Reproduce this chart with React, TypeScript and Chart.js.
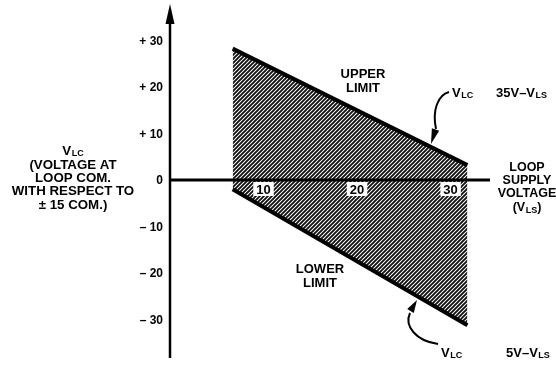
import React, { useEffect, useRef } from "react";
import { Chart, registerables } from "chart.js";

Chart.register(...registerables);

// Loop supply voltage (V_LS) at the ends of the shaded region
const supplyVoltage = [6.7, 31.8];
// Upper limit of V_LC (35V - V_LS)
const upperLimit = [28.2, 3.2];
// Lower limit of V_LC (5V - V_LS), as drawn
const lowerLimit = [-2, -31.2];

const xTicks = [10, 20, 30];
const xTickLabels = ["10", "20", "30"];
const yTicks = [30, 20, 10, 0, -10, -20, -30];
const yTickLabels = ["+ 30", "+ 20", "+ 10", "0", "– 10", "– 20", "– 30"];

const FONT = "'Liberation Sans', Arial, Helvetica, sans-serif";

function makeHatch(): CanvasPattern | string {
  const c = document.createElement("canvas");
  c.width = 4;
  c.height = 4;
  const g = c.getContext("2d");
  if (!g) return "#777";
  g.fillStyle = "#ffffff";
  g.fillRect(0, 0, 4, 4);
  g.strokeStyle = "#111111";
  g.lineWidth = 1.9;
  g.beginPath();
  g.moveTo(-1, 5);
  g.lineTo(5, -1);
  g.moveTo(-3, 3);
  g.lineTo(3, -3);
  g.moveTo(1, 7);
  g.lineTo(7, 1);
  g.stroke();
  const p = g.createPattern(c, "repeat");
  return p || "#777";
}

function drawSub(
  ctx: CanvasRenderingContext2D,
  main: string,
  sub: string,
  x: number,
  y: number,
  size: number,
  after = ""
) {
  ctx.textAlign = "left";
  ctx.textBaseline = "middle";
  ctx.font = `bold ${size}px ${FONT}`;
  ctx.fillText(main, x, y);
  let w = ctx.measureText(main).width;
  ctx.font = `bold ${Math.round(size * 0.7)}px ${FONT}`;
  ctx.fillText(sub, x + w + 0.5, y + 3);
  w += ctx.measureText(sub).width + 0.5;
  if (after) {
    ctx.font = `bold ${size}px ${FONT}`;
    ctx.fillText(after, x + w, y);
    w += ctx.measureText(after).width;
  }
  return w;
}

function measureSub(ctx: CanvasRenderingContext2D, main: string, sub: string, size: number, after = "") {
  ctx.font = `bold ${size}px ${FONT}`;
  let w = ctx.measureText(main).width + 0.5;
  ctx.font = `bold ${Math.round(size * 0.7)}px ${FONT}`;
  w += ctx.measureText(sub).width;
  if (after) {
    ctx.font = `bold ${size}px ${FONT}`;
    w += ctx.measureText(after).width;
  }
  return w;
}

const overlayPlugin = {
  id: "overlay",
  afterDatasetsDraw(chart: any) {
    const ctx: CanvasRenderingContext2D = chart.ctx;
    const xs = chart.scales.x;
    const ys = chart.scales.y;
    const x0 = xs.getPixelForValue(0);
    const y0 = ys.getPixelForValue(0);
    const area = chart.chartArea;
    ctx.save();
    ctx.fillStyle = "#000";
    ctx.strokeStyle = "#000";

    // X axis line
    ctx.lineWidth = 3;
    ctx.beginPath();
    ctx.moveTo(x0, y0);
    ctx.lineTo(xs.getPixelForValue(xs.max) + 2, y0);
    ctx.stroke();

    // Y axis line with arrow
    ctx.lineWidth = 2.5;
    ctx.beginPath();
    ctx.moveTo(x0, area.bottom + 1);
    ctx.lineTo(x0, area.top + 14);
    ctx.stroke();
    ctx.beginPath();
    ctx.moveTo(x0, area.top + 1);
    ctx.lineTo(x0 - 4.5, area.top + 21);
    ctx.lineTo(x0 + 4.5, area.top + 21);
    ctx.closePath();
    ctx.fill();

    // Y tick labels
    ctx.font = `bold 12px ${FONT}`;
    ctx.textAlign = "right";
    ctx.textBaseline = "middle";
    yTicks.forEach((v, i) => {
      ctx.fillText(yTickLabels[i], x0 - 7, ys.getPixelForValue(v) + 1);
    });

    // X tick labels with white backdrop
    ctx.font = `bold 13px ${FONT}`;
    ctx.textAlign = "center";
    xTicks.forEach((v, i) => {
      const px = xs.getPixelForValue(v);
      const w = ctx.measureText(xTickLabels[i]).width + 6;
      ctx.fillStyle = "#fff";
      ctx.fillRect(px - w / 2, y0 + 2, w, 14);
      ctx.fillStyle = "#000";
      ctx.fillText(xTickLabels[i], px, y0 + 10);
    });

    // Y axis title
    ctx.textAlign = "center";
    const tx = 73;
    const vw = measureSub(ctx, "V", "LC", 13.3);
    drawSub(ctx, "V", "LC", tx - vw / 2, 151, 13.3);
    ctx.textAlign = "center";
    ctx.font = `bold 13.3px ${FONT}`;
    ctx.fillText("(VOLTAGE AT", tx, 165);
    ctx.fillText("LOOP COM.", tx, 178);
    ctx.fillText("WITH RESPECT TO", tx, 191);
    ctx.fillText("± 15 COM.)", tx, 205);

    // X axis title
    const ax = 527;
    ctx.font = `bold 12.5px ${FONT}`;
    ctx.fillText("LOOP", ax, 168);
    ctx.fillText("SUPPLY", ax, 181);
    ctx.fillText("VOLTAGE", ax, 194);
    const lw = measureSub(ctx, "(V", "LS", 12.5, ")");
    drawSub(ctx, "(V", "LS", ax - lw / 2, 208, 12.5, ")");

    // Region labels
    ctx.textAlign = "center";
    ctx.font = `bold 13px ${FONT}`;
    ctx.fillText("UPPER", 363, 74);
    ctx.fillText("LIMIT", 363, 88);
    ctx.fillText("LOWER", 320, 269);
    ctx.fillText("LIMIT", 320, 283);

    // Formula labels
    drawSub(ctx, "V", "LC", 452, 93, 13);
    drawSub(ctx, "35V–V", "LS", 496, 93, 13);
    drawSub(ctx, "V", "LC", 441, 353, 13);
    drawSub(ctx, "5V–V", "LS", 506, 353, 13);

    // Curved arrows
    const arrow = (
      pts: number[],
      tip: [number, number],
      base: [number, number]
    ) => {
      ctx.lineWidth = 2;
      ctx.beginPath();
      ctx.moveTo(pts[0], pts[1]);
      ctx.bezierCurveTo(pts[2], pts[3], pts[4], pts[5], pts[6], pts[7]);
      ctx.stroke();
      const dx = tip[0] - base[0];
      const dy = tip[1] - base[1];
      const len = Math.hypot(dx, dy);
      const px = (-dy / len) * 3.8;
      const py = (dx / len) * 3.8;
      ctx.beginPath();
      ctx.moveTo(tip[0], tip[1]);
      ctx.lineTo(base[0] + px, base[1] + py);
      ctx.lineTo(base[0] - px, base[1] - py);
      ctx.closePath();
      ctx.fill();
    };
    arrow([449, 92, 438, 95, 432, 110, 436, 129], [431, 144], [435.5, 129.5]);
    arrow([438, 344, 416, 341, 404, 326, 410, 313], [417, 300], [410.5, 311]);

    ctx.restore();
  },
};

export default function App() {
  const ref = useRef<HTMLCanvasElement | null>(null);
  useEffect(() => {
    if (!ref.current) return;
    const hatch = makeHatch();
    const upperPts = supplyVoltage.map((x, i) => ({ x, y: upperLimit[i] }));
    const lowerPts = supplyVoltage.map((x, i) => ({ x, y: lowerLimit[i] }));
    const chart = new Chart(ref.current, {
      type: "line",
      data: {
        datasets: [
          {
            label: "Upper limit",
            data: upperPts,
            borderColor: "#000",
            borderWidth: 4,
            pointRadius: 0,
            fill: false,
            tension: 0,
          },
          {
            label: "Lower limit",
            data: lowerPts,
            borderColor: "#000",
            borderWidth: 4,
            pointRadius: 0,
            fill: "-1",
            backgroundColor: hatch as any,
            tension: 0,
          },
        ],
      },
      options: {
        responsive: false,
        animation: false,
        events: [],
        layout: { padding: { left: 170, right: 68, top: 3, bottom: 16 } },
        plugins: {
          legend: { display: false },
          tooltip: { enabled: false },
          filler: { drawTime: "beforeDatasetsDraw" },
        },
        scales: {
          x: { type: "linear", min: 0, max: 34, display: false },
          y: { type: "linear", min: -38, max: 38, display: false },
        },
      },
      plugins: [overlayPlugin],
    });
    return () => chart.destroy();
  }, []);
  return (
    <div style={{ position: "absolute", left: 0, top: 0, width: 556, height: 373, background: "#fff" }}>
      <canvas ref={ref} width={556} height={373} style={{ display: "block" }} />
    </div>
  );
}
